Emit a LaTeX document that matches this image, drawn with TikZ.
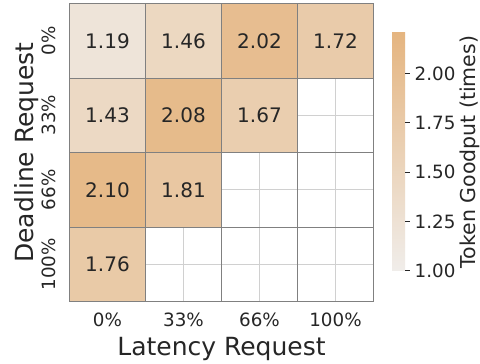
\documentclass[tikz,border=0pt]{standalone}
\usepackage{fontspec}
\setmainfont{DejaVu Sans}
\definecolor{lo}{RGB}{240,237,234}
\definecolor{hi}{RGB}{229,181,128}
\definecolor{ink}{RGB}{38,38,38}
\definecolor{edge}{RGB}{128,128,128}
\definecolor{gridc}{RGB}{208,208,208}
\begin{document}
\begin{tikzpicture}[x=1pt,y=-1pt,
  cell/.style={draw=edge, line width=0.9pt, minimum width=76pt, minimum height=74.5pt,
    inner sep=0pt, text=ink, font=\fontsize{20}{24}\selectfont},
  ticklab/.style={text=ink, inner sep=0pt, font=\fontsize{18.3}{22}\selectfont},
  axislab/.style={text=ink, inner sep=0pt, font=\fontsize{25}{30}\selectfont},
  barlab/.style={text=ink, inner sep=0pt, font=\fontsize{20.5}{24}\selectfont},
  gridline/.style={draw=gridc, line width=0.9pt}]
\useasboundingbox (0,0) rectangle (480,364);
\fill[white] (0,0) rectangle (480,364);

% light grid through the cell centres
\foreach \i in {0,...,3} {
  \draw[gridline] ({69.5+76*(\i+0.5)},3.5) -- ({69.5+76*(\i+0.5)},301.5);
  \draw[gridline] (69.5,{3.5+74.5*(\i+0.5)}) -- (373.5,{3.5+74.5*(\i+0.5)});
}

% empty cells (outline only)
\foreach \c/\r in {3/1,2/2,3/2,1/3,2/3,3/3}
  \node[cell] (e\c\r) at ({69.5+76*(\c+0.5)},{3.5+74.5*(\r+0.5)}) {};

% filled cells: column/row/value/share of the high colour
\foreach \c/\r/\v/\p in {0/0/1.19/15.8, 1/0/1.46/38.3, 2/0/2.02/85, 3/0/1.72/60,
                         0/1/1.43/35.8, 1/1/2.08/90, 2/1/1.67/55.8,
                         0/2/2.10/91.7, 1/2/1.81/67.5,
                         0/3/1.76/63.3}
  \node[cell, fill=hi!\p!lo] (c\c\r) at ({69.5+76*(\c+0.5)},{3.5+74.5*(\r+0.5)}) {\v};

% x tick labels
\foreach \i/\t in {0/0\%,1/33\%,2/66\%,3/100\%}
  \node[ticklab, anchor=base] (xt\i) at ({69.5+76*(\i+0.5)},326) {\t};
% y tick labels
\foreach \i/\t in {0/0\%,1/33\%,2/66\%,3/100\%}
  \node[ticklab, anchor=base, rotate=90] (yt\i) at (55,{3.5+74.5*(\i+0.5)}) {\t};

\node[axislab, anchor=base] (xlab) at (221.5,355) {Latency Request};
\node[axislab, anchor=base, rotate=90] (ylab) at (33,152.5) {Deadline Request};

% colour bar
\shade[top color=hi, bottom color=lo] (392,32.7) rectangle (405,270.7);
\foreach \v/\t in {1/1.00,1.25/1.25,1.5/1.50,1.75/1.75,2/2.00} {
  \draw[ink, line width=0.8pt] (405,{270.7-(\v-1)*197.2}) -- (409.5,{270.7-(\v-1)*197.2});
  \node[ticklab, anchor=west] at (414.5,{270.7-(\v-1)*197.2}) {\t};
}
\node[barlab, anchor=base, rotate=90] (blab) at (475.5,152) {Token Goodput (times)};
\end{tikzpicture}
\end{document}
